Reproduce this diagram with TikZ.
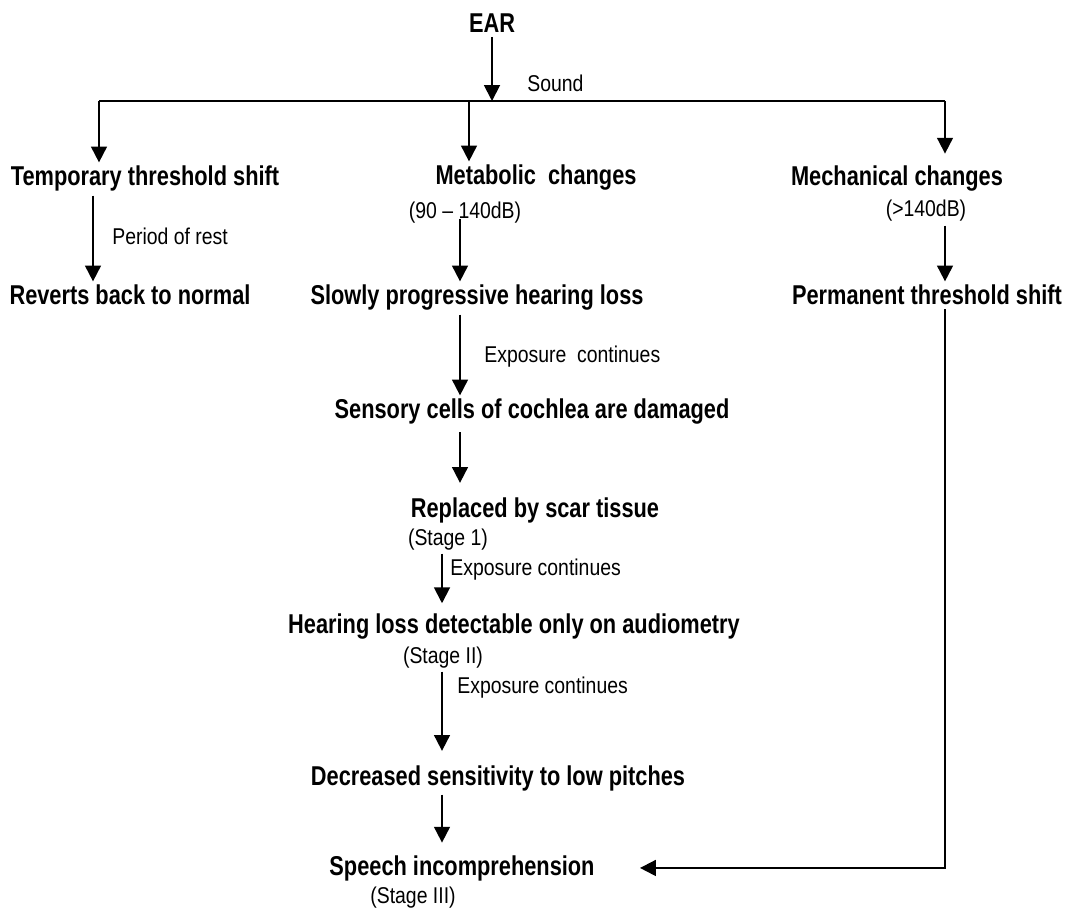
\documentclass[tikz,border=0pt]{standalone}
\usepackage{fontspec}
\setmainfont{Liberation Sans}[FakeStretch=0.85]
\newfontfamily\boldfont{Liberation Sans}[FakeStretch=0.80]
\usetikzlibrary{arrows.meta}

\begin{document}
\begin{tikzpicture}[x=0.02cm, y=-0.02cm,
  main/.style={font=\boldfont\fontsize{15.5}{18}\selectfont\bfseries, inner sep=2pt, anchor=base},
  sub/.style={font=\fontsize{13}{15}\selectfont, inner sep=2pt, anchor=base},
  lbl/.style={font=\fontsize{13}{15}\selectfont, inner sep=0pt, anchor=base west},
  arr/.style={-{Triangle[length=9pt, width=9pt]}, line width=1.1pt},
  bus/.style={line width=0.9pt}
]
\useasboundingbox (0,0) rectangle (1067,911);
% top
\node[main] (ear) at (492, 33) {EAR};
\node[lbl] (sound) at (527, 92) {Sound};
% three branches
\node[main] (tts) at (145, 186) {Temporary threshold shift};
\node[main] (met) at (536, 185) {Metabolic\ \ changes};
\node[sub] (metdb) at (465, 219) {(90 \textendash\ 140dB)};
\node[main] (mech) at (897, 186) {Mechanical changes};
\node[sub] (mechdb) at (926, 217) {(>140dB)};
\node[lbl] (rest) at (112, 245) {Period of rest};
\node[main] (rev) at (130, 305) {Reverts back to normal};
\node[main] (slow) at (477, 305) {Slowly progressive hearing loss};
\node[main] (perm) at (927, 305) {Permanent threshold shift};
% middle column
\node[lbl] (exp1) at (484, 363) {Exposure\ \ continues};
\node[main] (sens) at (532, 419) {Sensory cells of cochlea are damaged};
\node[main] (scar) at (535, 517) {Replaced by scar tissue};
\node[sub] (st1) at (448, 545) {(Stage 1)};
\node[lbl] (exp2) at (450, 575) {Exposure continues};
\node[main] (aud) at (514, 633) {Hearing loss detectable only on audiometry};
\node[sub] (st2) at (443, 663) {(Stage II)};
\node[lbl] (exp3) at (457, 693) {Exposure continues};
\node[main] (dec) at (498, 785) {Decreased sensitivity to low pitches};
\node[main] (speech) at (462, 875) {Speech incomprehension};
\node[sub] (st3) at (413, 903) {(Stage III)};
% bus and columns
\coordinate (bL) at (99, 101);
\coordinate (bM) at (469, 101);
\coordinate (bR) at (945, 101);
\coordinate (cL) at (93, 0);
\coordinate (cM) at (460, 0);
\coordinate (cR) at (945, 0);
\coordinate (cS) at (442, 0);
\coordinate (cT) at (640, 0);
\draw[arr] (ear) -- (ear |- bM);
\draw[bus] (bL) -- (bR);
\draw[arr] (bL) -- (tts.north -| bL);
\draw[arr] (bM) -- (met.north -| bM);
\draw[arr, shorten >=5pt] (bR) -- (mech.north -| bR);
% arrows down
\draw[arr] (tts.south -| cL) -- (rev.north -| cL);
\draw[arr] (metdb.base -| cM) -- (slow.north -| cM);
\draw[arr] (mechdb.south -| cR) -- (perm.north -| cR);
\draw[arr] (slow.south -| cM) -- (sens.north -| cM);
\draw[arr, shorten <=2pt, shorten >=6pt] (sens.south -| cM) -- (scar.north -| cM);
\draw[arr, shorten >=3.5pt] (st1.south -| cS) -- (aud.north -| cS);
\draw[arr, shorten >=6pt] (st2.south -| cS) -- (dec.north -| cS);
\draw[arr, shorten >=5pt] (dec.south -| cS) -- (speech.north -| cS);
\draw[arr] (perm.south -| cR) |- (speech.east -| cT);
\end{tikzpicture}
\end{document}
